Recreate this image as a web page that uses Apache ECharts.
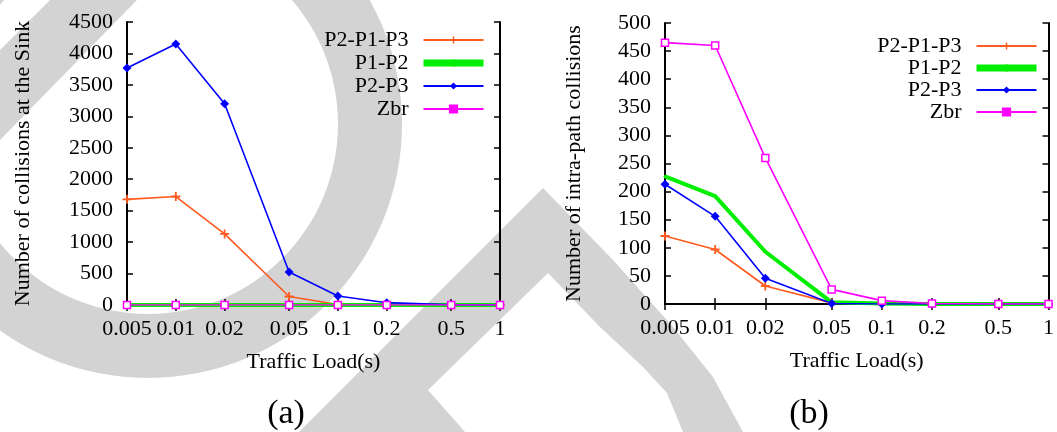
<!DOCTYPE html>
<html>
<head>
<meta charset="utf-8">
<title>Collisions vs traffic load</title>
<script src="https://cdn.jsdelivr.net/npm/echarts@6/dist/echarts.min.js"></script>
<style>
  html, body { margin: 0; padding: 0; background: #fff; }
  #chart { width: 1057px; height: 432px; }
</style>
</head>
<body>
<div id="chart"></div>
<script>
const loads = [0.005, 0.01, 0.02, 0.05, 0.1, 0.2, 0.5, 1];
const loadLabels = ['0.005', '0.01', '0.02', '0.05', '0.1', '0.2', '0.5', '1'];
const names = ['P2-P1-P3', 'P1-P2', 'P2-P3', 'Zbr'];

// (a) number of collisions at the sink
const sinkP2P1P3 = [1680, 1725, 1130, 135, 8, 0, 0, 0];
const sinkP1P2   = [0, 0, 0, 0, 0, 0, 0, 0];
const sinkP2P3   = [3770, 4150, 3200, 525, 143, 37, 5, 0];
const sinkZbr    = [0, 0, 0, 0, 0, 0, 0, 0];

// (b) number of intra-path collisions
const intraP2P1P3 = [121, 97, 32, 2, 0, 0, 0, 0];
const intraP1P2   = [227, 192, 93, 3, 1, 0, 0, 0];
const intraP2P3   = [213, 156, 46, 1, 0, 0, 0, 0];
const intraZbr    = [465, 460, 260, 26, 6, 1, 0, 0];

const font = 'Liberation Serif';
const frame = { color: '#000', width: 2 };
const tick = { color: '#000', width: 1.5 };
const plus = 'path://M4,0H6V4H10V6H6V10H4V6H0V4H4Z';

const styles = {
  'P2-P1-P3': { color: '#ff5a1f', width: 1.6, symbol: plus, size: 9 },
  'P1-P2':    { color: '#00ee00', width: 4, symbol: 'circle', size: 3 },
  'P2-P3':    { color: '#0000ff', width: 1.6, symbol: 'diamond', size: 9 },
  'Zbr':      { color: '#ff00ff', width: 1.6, symbol: 'rect', size: 7, hollow: true }
};

function labelFor(v) {
  const i = loads.findIndex(x => Math.abs(x - v) < x * 1e-6);
  return i < 0 ? '' : loadLabels[i];
}

function makeSeries(name, values, idx) {
  const s = styles[name];
  return {
    name: name,
    type: 'line',
    xAxisIndex: idx * 2,
    yAxisIndex: idx * 2,
    data: loads.map((x, i) => [x, values[i]]),
    symbol: s.symbol,
    symbolSize: s.size,
    lineStyle: { color: s.color, width: s.width },
    itemStyle: s.hollow ? { color: '#fff', borderColor: s.color, borderWidth: 1.5 } : { color: s.color },
    animation: false
  };
}

function xAxisFor(gridIndex, pos) {
  const bottom = pos === 'bottom';
  return {
    type: 'log', logBase: 10, gridIndex: gridIndex, position: pos,
    min: 0.005, max: 1,
    axisLine: { show: true, lineStyle: frame },
    axisTick: { show: true, inside: true, length: 6, customValues: loads, lineStyle: tick },
    axisLabel: {
      show: bottom, customValues: loads, margin: 13,
      fontFamily: font, fontSize: 22, color: '#000', formatter: labelFor
    },
    minorTick: { show: false },
    splitLine: { show: false },
    name: bottom ? 'Traffic Load(s)' : '',
    nameLocation: 'middle', nameGap: 46,
    nameTextStyle: { fontFamily: font, fontSize: 22, color: '#000' }
  };
}

function yAxisFor(gridIndex, pos, max, interval, name, gap) {
  const left = pos === 'left';
  return {
    type: 'value', gridIndex: gridIndex, position: pos,
    min: 0, max: max, interval: interval,
    axisLine: { show: true, lineStyle: frame },
    axisTick: { show: true, inside: true, length: 6, lineStyle: tick },
    axisLabel: {
      show: left, margin: 14, fontFamily: font, fontSize: 22, color: '#000',
      formatter: v => String(v)
    },
    splitLine: { show: false },
    name: left ? name : '',
    nameLocation: 'middle', nameGap: gap, nameRotate: 90,
    nameTextStyle: { fontFamily: font, fontSize: 22, color: '#000' }
  };
}

function legendFor(right, top, gap) {
  return {
    orient: 'vertical', align: 'right', right: right, top: top,
    padding: 0, itemGap: gap, itemWidth: 60, itemHeight: 9,
    textStyle: { fontFamily: font, fontSize: 22, color: '#000', padding: [0, 10, 0, 0] },
    data: names.map(n => {
      const item = { name: n };
      if (n === 'P1-P2') item.lineStyle = { width: 7 };
      if (n === 'Zbr') item.itemStyle = { color: styles.Zbr.color, borderColor: styles.Zbr.color };
      return item;
    })
  };
}

const gray = '#d3d3d3';

const option = {
  backgroundColor: '#fff',
  animation: false,
  textStyle: { fontFamily: font },
  grid: [
    { left: 127, top: 22, width: 373, height: 283 },
    { left: 665, top: 23, width: 389, height: 281 }
  ],
  xAxis: [xAxisFor(0, 'bottom'), xAxisFor(0, 'top'), xAxisFor(1, 'bottom'), xAxisFor(1, 'top')],
  yAxis: [
    yAxisFor(0, 'left', 4500, 500, 'Number of collisions at the Sink', 93),
    yAxisFor(0, 'right', 4500, 500, '', 0),
    yAxisFor(1, 'left', 500, 50, 'Number of intra-path collisions', 80),
    yAxisFor(1, 'right', 500, 50, '', 0)
  ],
  legend: [legendFor(570, 29, 1), legendFor(17, 35, 0)],
  series: [
    makeSeries('P2-P1-P3', sinkP2P1P3, 0),
    makeSeries('P1-P2', sinkP1P2, 0),
    makeSeries('P2-P3', sinkP2P3, 0),
    makeSeries('Zbr', sinkZbr, 0),
    makeSeries('P2-P1-P3', intraP2P1P3, 1),
    makeSeries('P1-P2', intraP1P2, 1),
    makeSeries('P2-P3', intraP2P3, 1),
    makeSeries('Zbr', intraZbr, 1)
  ],
  graphic: {
    elements: [
      // watermark shapes behind the plots
      { type: 'ring', silent: true, z: -10, shape: { cx: 148, cy: 124, r: 254, r0: 190 }, style: { fill: gray } },
      { type: 'polygon', silent: true, z: -10, shape: { points: [[50, 0], [137, 0], [0, 140], [0, 50]] }, style: { fill: gray } },
      { type: 'polygon', silent: true, z: -10, shape: { points: [
        [299, 432], [543, 188], [613, 260], [673, 327], [713, 377], [743, 432],
        [683, 432], [667, 393], [643, 367], [600, 327], [548, 273], [428, 390], [465, 432]
      ] }, style: { fill: gray } },
      { type: 'text', x: 286, y: 414, style: { text: '(a)', fontSize: 34, fontFamily: font, fill: '#000', align: 'center', verticalAlign: 'middle' } },
      { type: 'text', x: 809, y: 414, style: { text: '(b)', fontSize: 34, fontFamily: font, fill: '#000', align: 'center', verticalAlign: 'middle' } }
    ]
  }
};

const myChart = echarts.init(document.getElementById('chart'));
myChart.setOption(option);
</script>
</body>
</html>
